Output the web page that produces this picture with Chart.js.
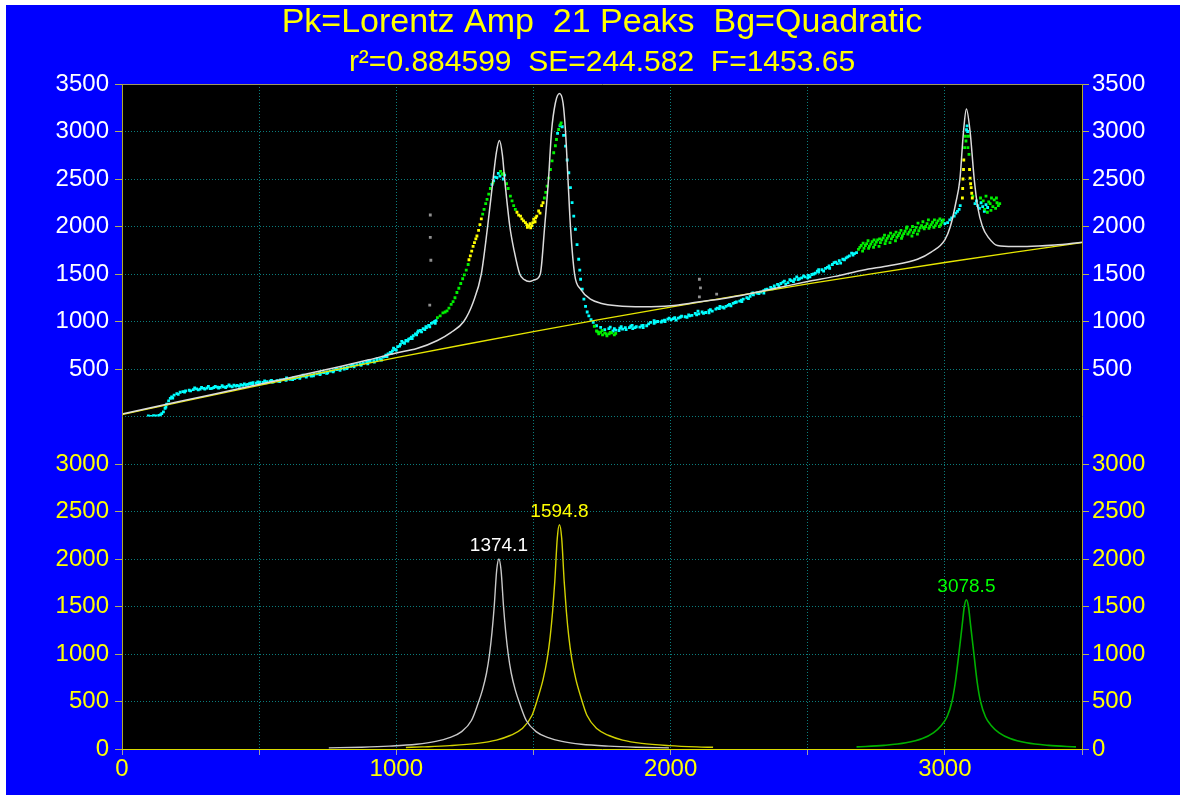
<!DOCTYPE html>
<html><head><meta charset="utf-8">
<script src="https://cdn.jsdelivr.net/npm/chart.js@4.4.1/dist/chart.umd.min.js"></script>
<style>
html,body{margin:0;padding:0;background:#ffffff;width:1180px;height:795px;overflow:hidden}
#wrap{position:absolute;left:6px;top:5px;width:1174px;height:790px;background:#0000ff}
canvas{display:block}
</style></head><body>
<div id="wrap"><canvas id="c" width="1174" height="790"></canvas></div>
<script>
// ---------- data ----------
const titleText = 'Pk=Lorentz Amp  21 Peaks  Bg=Quadratic';
const subtitleText = 'r\u00B2=0.884599  SE=244.582  F=1453.65';
const yTickValues = [0, 500, 1000, 1500, 2000, 2500, 3000, 3500];
const xTickLabels = [0, 1000, 2000, 3000];

const fitX = [0,200,400,600,800,900,1000,1075,1150,1200,1246,1280,1310,1333,1353,1365,1376,1387,1395,1414,1430,1450,1467,1485,1505,1525,1541,1555,1566,1580,1595,1608,1617,1626,1635,1650,1672,1708,1745,1805,1900,2000,2100,2200,2300,2400,2500,2600,2700,2800,2900,2950,3000,3020,3040,3055,3068,3078.5,3092,3107,3120,3137,3160,3192,3250,3300,3400,3500];
const fitY = [25,152,276,401,529,597,669,715,800,885,1000,1200,1500,2000,2500,2780,2905,2750,2500,2000,1740,1500,1440,1421,1440,1500,2000,2500,3000,3300,3399,3300,3000,2500,2000,1500,1340,1235,1193,1165,1155,1165,1205,1245,1300,1360,1420,1475,1540,1590,1655,1730,1860,2000,2250,2500,3000,3238,3000,2500,2200,2000,1880,1800,1790,1790,1805,1835];

const baseX = [0,250,500,750,1000,1250,1500,1750,2000,2250,2500,2750,3000,3250,3500];
const baseY = [20,176,328,475,619,758,894,1025,1152,1276,1395,1510,1621,1728,1831];

const peakCenters = [1374.1, 1594.8, 3078.5];
const peakHeights = [2000, 2361, 1571];

const peak1X = [754,874,974,1074,1144,1194,1237,1274,1297,1314,1329,1340,1349,1357,1366,1374.1,1382,1391,1399,1408,1419,1434,1451,1474,1511,1554,1604,1674,1774,1874,1994];
const peak1Y = [12,19,30,50,80,120,180,300,470,620,800,1000,1230,1500,1880,2000,1880,1500,1230,1000,800,620,470,300,180,120,80,50,30,19,12];
const peak2X = [1035,1095,1195,1295,1365,1415,1458,1495,1518,1535,1550,1561,1570,1578,1587,1594.8,1603,1612,1620,1629,1640,1655,1672,1695,1732,1775,1825,1895,1995,2095,2155];
const peak2Y = [16,22,35,59,94,142,212,355,555,730,945,1180,1450,1770,2220,2361,2220,1770,1450,1180,945,730,555,355,212,142,94,59,35,22,18];
const peak3X = [2678,2778,2858,2918,2958,2988,3008,3026,3038,3051,3063,3071,3078.5,3086,3094,3106,3118,3130,3148,3168,3198,3238,3298,3378,3478];
const peak3Y = [22,38,65,110,170,250,340,500,700,1000,1300,1500,1571,1500,1300,1000,700,500,340,250,170,110,65,38,22];

const cyanPts = [[96,5],[105,2],[115,8],[125,6],[135,12],[145,30],[151,48],[157,85],[163,130],[170,165],[176,190],[181,205],[190,225],[200,240],[212,255],[222,262],[232,270],[245,276],[260,283],[272,290],[285,288],[298,296],[310,300],[322,294],[335,305],[348,310],[358,307],[370,312],[383,318],[395,320],[408,330],[420,326],[433,335],[446,342],[458,338],[470,350],[478,355],[490,352],[503,362],[515,358],[528,368],[540,372],[552,366],[565,378],[578,385],[590,388],[601,395],[613,392],[625,405],[638,410],[650,418],[662,425],[675,430],[688,436],[700,445],[712,448],[723,455],[735,462],[748,470],[760,478],[772,482],[785,495],[798,505],[810,512],[822,520],[834,528],[844,535],[856,545],[868,556],[880,562],[892,570],[905,580],[918,588],[930,598],[942,605],[952,625],[962,645],[970,660],[978,675],[986,690],[995,705],[1005,735],[1015,760],[1025,778],[1035,800],[1045,815],[1055,835],[1062,850],[1070,870],[1078,885],[1088,905],[1098,925],[1108,945],[1118,960],[1128,980],[1136,990],[1145,1010],
[265,300],[290,305],[315,318],[340,316],[365,325],[390,332],[415,320],[440,328],[465,345],[495,365],[520,375],[545,380],[570,372],[600,405],[630,398],[660,435],[690,425],[720,465],[750,460],[780,500],[810,500],[840,548],[870,545],[900,585],[930,610],[960,630],[990,720],[1020,790],[1050,820],[1080,900],[1110,935],[1140,1000],
[140,18],[160,100],[185,195],[205,232],[228,258],[250,270],[278,280],[302,288],[328,296],[352,300],[378,305],[402,312],[428,318],[452,330],[476,340],[500,348],[525,355],[548,362],[575,368],[598,380],[622,388],[648,402],[672,415],[698,428],[722,440],[746,455],[770,470],[795,485],[820,505],[846,522],[872,540],[896,555],[920,572],[946,595],[966,630],[982,665],[1000,700],[1012,740],[1030,770],[1042,795],[1058,820],[1074,860],[1092,890],[1104,915],[1122,945],[1142,980],
[1349,2443],[1355,2480],[1360,2520],[1367,2514],[1372,2560],[1378,2530],[1390,2500],[1395,2540],[1588,2980],[1597,3060],
[1605,3050],[1610,2960],[1617,2846],[1623,2700],[1629,2566],[1635,2410],[1641,2251],[1647,2110],[1653,1971],[1659,1810],[1665,1655],[1669,1540],[1672,1445],[1678,1340],[1684,1235],[1690,1160],[1696,1100],[1702,1060],[1710,1020],[1718,990],
[1730,955],[1745,938],[1760,915],[1775,925],[1790,900],[1800,910],[1812,905],[1825,920],[1838,915],[1850,935],[1862,925],[1875,945],[1888,940],[1900,960],[1913,955],[1927,990],[1940,980],[1953,1000],[1966,995],[1978,1015],[1990,1025],[2002,1020],[2015,1040],[2028,1035],[2040,1055],[2053,1050],[2066,1070],[2078,1065],[2090,1085],[2103,1080],[2115,1100],[2128,1095],[2140,1115],[2152,1110],[2165,1130],[2178,1135],[2190,1150],[2202,1160],[2215,1180],[2228,1190],[2240,1205],[2252,1215],[2265,1235],[2278,1250],[2290,1265],[2302,1280],[2315,1300],[2328,1310],[2340,1325],[2352,1340],[2365,1360],[2378,1375],[2390,1390],[2402,1400],[2415,1425],[2428,1410],[2440,1430],[2452,1445],[2465,1440],[2478,1460],[2490,1470],[2502,1485],[2515,1495],[2528,1510],[2540,1520],[2552,1545],[2565,1560],[2578,1585],[2590,1600],[2602,1625],[2615,1640],[2628,1655],[2640,1670],[2652,1690],[2665,1700],[2678,1725],
[1780,940],[1820,945],[1860,960],[1900,935],[1940,1010],[1980,1000],[2020,1015],[2060,1045],[2100,1110],[2140,1090],[2180,1160],[2220,1165],[2260,1210],[2300,1300],[2340,1300],[2380,1350],[2420,1390],[2460,1470],[2500,1460],[2540,1545],[2580,1560],[2620,1615],[2660,1720],
[1795,925],[1815,930],[1835,935],[1855,950],[1870,935],[1895,955],[1920,975],[1945,995],[1970,1005],[1995,1035],[2010,1030],[2035,1045],[2070,1060],[2095,1070],[2120,1085],[2145,1125],[2170,1140],[2195,1140],[2210,1170],[2235,1200],[2258,1225],[2284,1240],[2296,1290],[2322,1295],[2346,1335],[2370,1345],[2395,1375],[2410,1415],[2435,1440],[2448,1420],[2470,1450],[2485,1480],[2508,1470],[2522,1500],[2535,1530],[2558,1530],[2572,1570],[2596,1620],[2608,1610],[2634,1650],[2646,1680],[2670,1715],
[2990,2060],[3000,2030],[3010,2040],[3018,2070],[3025,2090],[3034,2110],[3040,2140],[3046,2160],[3052,2180],[3056,2220],[3079,3020],[3081,3060],[3083,3000],[3110,2240],[3115,2270],[3120,2220],[3126,2190],[3132,2250],[3138,2210],[3144,2160],[3150,2230],[3156,2200]];

const greenPts = [[1150,1040],[1160,1060],[1170,1090],[1178,1100],[1185,1112],[1192,1140],[1200,1180],[1207,1210],[1214,1250],[1221,1305],[1228,1350],[1235,1400],[1242,1450],[1248,1490],[1255,1540],[1262,1600],[1315,2130],[1320,2180],[1326,2240],[1331,2286],[1337,2340],[1343,2400],[1352,2460],[1380,2580],[1386,2548],[1392,2560],[1402,2450],[1408,2400],[1416,2320],[1422,2270],[1428,2220],[1434,2181],[1540,2300],[1545,2360],[1550,2425],[1556,2510],[1562,2600],[1568,2690],[1574,2776],[1580,2850],[1584,2916],[1592,3021],[1601,3091],[1598,3070],[1722,950],[1730,900],[1738,870],[1745,885],[1752,860],[1760,880],[1768,850],[1776,870],[1785,880],[1795,860],[1735,890],[1750,905],[1765,870],[1780,885],[1800,875],
[2685,1760],[2695,1800],[2705,1770],[2715,1820],[2725,1790],[2735,1840],[2745,1810],[2755,1860],[2765,1830],[2775,1880],[2785,1850],[2795,1900],[2805,1870],[2815,1915],[2825,1885],[2835,1930],[2845,1900],[2855,1950],[2865,1920],[2875,1965],[2885,1935],[2895,1990],[2905,1955],[2915,2010],[2925,1975],[2935,2030],[2945,2000],[2955,2045],[2965,2010],[2975,2060],[2985,2020],[2995,2070],[2700,1740],[2740,1780],[2780,1910],[2820,1850],[2860,1980],[2900,1920],[2940,2070],[2980,2000],[2720,1850],[2760,1790],[2800,1830],[2840,1960],[2880,1900],[2920,2050],[2960,1990],
[2690,1780],[2710,1800],[2730,1815],[2750,1835],[2770,1860],[2790,1875],[2810,1895],[2830,1905],[2850,1925],[2870,1940],[2890,1960],[2910,1985],[2930,2000],[2950,2020],[2970,2035],[2990,2045],[2702,1825],[2722,1770],[2742,1860],[2762,1870],[2782,1820],[2802,1930],[2822,1940],[2842,1875],[2862,1995],[2882,2000],[2902,2035],[2922,1990],[2942,1980],[2962,2070],[2982,2080],
[3072,2830],[3075,2950],[3077,2900],[3086,2950],[3088,2760],[3084,2830],[3102,2320],
[3130,2300],[3140,2270],[3150,2320],[3160,2260],[3165,2240],[3170,2300],[3175,2210],[3180,2280],[3185,2190],[3190,2250],[3195,2220],[3200,2240],[3145,2180],[3155,2150],[3168,2170],[3188,2300]];

const yellowPts = [[1265,1650],[1270,1690],[1275,1740],[1280,1790],[1285,1830],[1290,1870],[1294,1900],[1300,1960],[1305,2020],[1310,2080],[1440,2150],[1446,2120],[1453,2110],[1458,2080],[1464,2060],[1471,2041],[1476,2020],[1483,2005],[1488,2030],[1494,2010],[1501,2076],[1506,2050],[1512,2110],[1519,2163],[1524,2140],[1530,2220],[1535,2250],[1478,1990],[1490,1985],[1498,2040],[1508,2090],
[3064,2300],[3065,2400],[3066,2500],[3068,2600],[3069,2700],[3092,2510],[3094,2450],[3096,2410],[3098,2350],[3100,2300],[3090,2600]];

const greyPts = [[1124,2121],[1124,1886],[1126,1645],[1122,1172],[2105,1445],[2109,1354],[2105,1260],[2168,1288]];

// ---------- chart ----------
const FONT = "'Liberation Sans', Arial, Helvetica, sans-serif";
const GRID = '#0b7d7d';
const TICKC = '#b0b060';
const CLEAR = 'rgba(0,0,0,0)';
const toXY = (xs, ys) => xs.map((x, i) => ({x: x, y: ys[i]}));
const fromPairs = p => p.map(a => ({x: a[0], y: a[1]}));

function yScale(pos, stack, isTop) {
  return {
    type: 'linear', position: pos, stack: stack, stackWeight: 1,
    min: 0, max: 3500,
    afterBuildTicks: s => { s.ticks = yTickValues.map(v => ({value: v})); },
    afterFit: s => { s.width = (pos === 'left') ? 116 : 98; },
    ticks: {
      color: isTop ? '#ffffff' : '#ffff00',
      font: {family: FONT, size: 24},
      padding: pos === 'left' ? 6 : 3,
      autoSkip: false,
      callback: v => ((isTop && v === 0) || (!isTop && v === 3500)) ? '' : String(v)
    },
    grid: {
      drawOnChartArea: pos === 'left',
      color: c => {
        const v = c.tick ? c.tick.value : null;
        if (isTop && v === 3500) return CLEAR;
        if (!isTop && (v === 0 || v === 3500)) return CLEAR;
        return GRID;
      },
      lineWidth: 1,
      tickLength: 7,
      tickColor: c => {
        const v = c.tick ? c.tick.value : null;
        if ((isTop && v === 0) || (!isTop && v === 3500)) return CLEAR;
        return TICKC;
      }
    },
    border: {display: false, dash: [1, 2]}
  };
}

const framePlugin = {
  id: 'frame',
  beforeDraw(chart) {
    const {ctx, chartArea: a} = chart;
    ctx.save();
    ctx.fillStyle = '#000000';
    ctx.fillRect(a.left, a.top, a.right - a.left, a.bottom - a.top);
    ctx.restore();
  },
  afterDraw(chart) {
    const {ctx, chartArea: a} = chart;
    ctx.save();
    ctx.lineWidth = 1;
    ctx.strokeStyle = '#a09860';
    ctx.beginPath(); ctx.moveTo(a.left, a.top + 0.5); ctx.lineTo(a.right + 1, a.top + 0.5); ctx.stroke();
    ctx.strokeStyle = '#b0a830';
    ctx.beginPath(); ctx.moveTo(a.left + 0.5, a.top); ctx.lineTo(a.left + 0.5, a.bottom); ctx.stroke();
    ctx.beginPath(); ctx.moveTo(a.right + 0.5, a.top); ctx.lineTo(a.right + 0.5, a.bottom); ctx.stroke();
    ctx.strokeStyle = '#d8d800';
    ctx.beginPath(); ctx.moveTo(a.left, a.bottom + 0.5); ctx.lineTo(a.right + 1, a.bottom + 0.5); ctx.stroke();
    ctx.restore();
  }
};

const peakLabelPlugin = {
  id: 'peakLabels',
  afterDatasetsDraw(chart) {
    const {ctx} = chart;
    const xs = chart.scales.x, ys = chart.scales.yBot;
    const colors = ['#ffffff', '#ffff00', '#00ff00'];
    ctx.save();
    ctx.font = '19px ' + FONT;
    ctx.textAlign = 'center';
    ctx.textBaseline = 'middle';
    peakCenters.forEach((c, i) => {
      ctx.fillStyle = colors[i];
      ctx.fillText(c.toFixed(1), xs.getPixelForValue(c), ys.getPixelForValue(peakHeights[i]) - 13);
    });
    ctx.restore();
  }
};

const lineDS = (label, data, color, w, axis) => ({
  label, data, yAxisID: axis, showLine: true, borderColor: color, borderWidth: w,
  pointRadius: 0, fill: false, cubicInterpolationMode: 'monotone'
});
const ptDS = (label, data, color, axis) => ({
  label, data, yAxisID: axis, showLine: false, backgroundColor: color, borderWidth: 0,
  pointStyle: 'rect', pointRadius: 2.0
});

new Chart(document.getElementById('c'), {
  type: 'scatter',
  data: {
    datasets: [
      lineDS('Fit', toXY(fitX, fitY), '#dcdcdc', 1.5, 'yTop'),
      lineDS('Baseline', toXY(baseX, baseY), '#e6e600', 1.3, 'yTop'),
      lineDS('Peak 1374.1', toXY(peak1X, peak1Y), '#c8c8c8', 1.4, 'yBot'),
      lineDS('Peak 1594.8', toXY(peak2X, peak2Y), '#d2d200', 1.4, 'yBot'),
      lineDS('Peak 3078.5', toXY(peak3X, peak3Y), '#00b000', 1.6, 'yBot'),
      ptDS('Data (large residual)', fromPairs(yellowPts), '#ffff00', 'yTop'),
      ptDS('Data (medium residual)', fromPairs(greenPts), '#00f000', 'yTop'),
      ptDS('Data', fromPairs(cyanPts), '#00ffff', 'yTop'),
      ptDS('Excluded', fromPairs(greyPts), '#909090', 'yTop')
    ]
  },
  options: {
    responsive: false,
    animation: false,
    events: [],
    layout: {padding: 0},
    plugins: {
      legend: {display: false},
      tooltip: {enabled: false},
      title: {
        display: true, fullSize: false, text: titleText, color: '#ffff00',
        font: {family: FONT, size: 34, weight: 'normal', lineHeight: 1},
        padding: {top: 1, bottom: 0}
      },
      subtitle: {
        display: true, fullSize: false, text: subtitleText, color: '#ffff00',
        font: {family: FONT, size: 30, weight: 'normal', lineHeight: 1},
        padding: {top: 8, bottom: 6}
      }
    },
    scales: {
      x: {
        type: 'linear', position: 'bottom', min: 0, max: 3500,
        afterBuildTicks: s => {
          const t = [];
          for (let v = 0; v <= 3500; v += 500) t.push({value: v});
          s.ticks = t;
        },
        afterFit: s => { s.height = 46; },
        ticks: {
          color: '#ffff00', font: {family: FONT, size: 24}, padding: 0,
          maxRotation: 0, autoSkip: false,
          callback: v => xTickLabels.includes(v) ? String(v) : ''
        },
        grid: {
          color: c => (c.tick && (c.tick.value === 0 || c.tick.value === 3500)) ? CLEAR : GRID,
          tickLength: 6, tickColor: '#a0a0a0'
        },
        border: {display: false, dash: [1, 2]}
      },
      yBot: yScale('left', 'L', false),
      yTop: yScale('left', 'L', true),
      yTopR: yScale('right', 'R', true),
      yBotR: yScale('right', 'R', false)
    }
  },
  plugins: [framePlugin, peakLabelPlugin]
});
</script>
</body></html>
